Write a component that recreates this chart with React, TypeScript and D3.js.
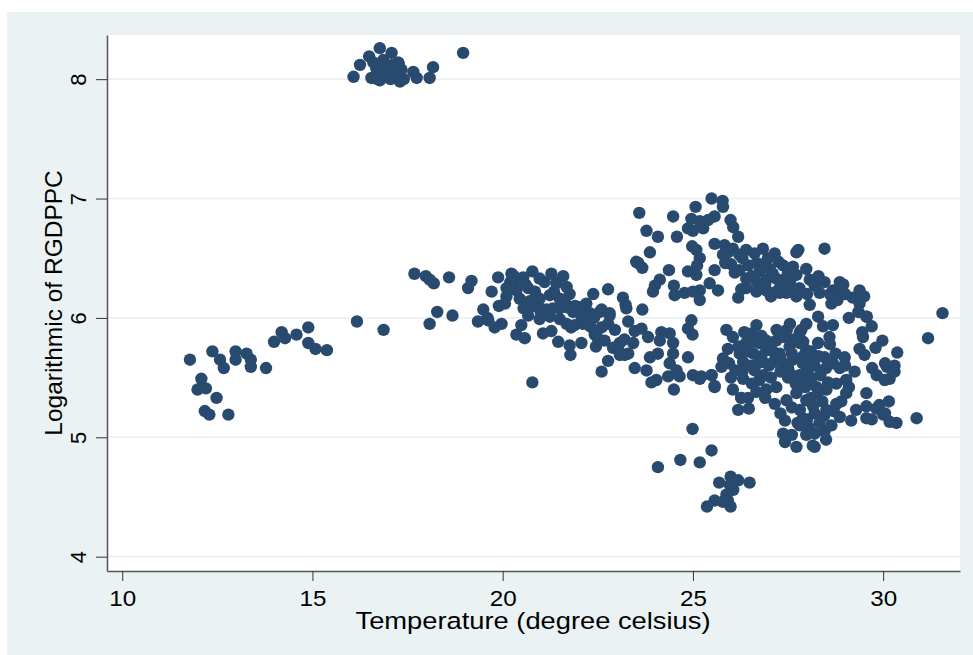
import * as d3 from "d3";
import { useEffect, useRef } from "react";

// [temperature, log RGDPPC], grouped by cluster
const coolGroup: [number, number][] = [
  [11.78, 5.65], [12.37, 5.72], [12.57, 5.65], [12.67, 5.58], [12.98, 5.72], [12.98, 5.65],
  [13.27, 5.70], [13.38, 5.65], [13.38, 5.59], [13.78, 5.58], [12.08, 5.49], [11.98, 5.40],
  [12.2, 5.41], [12.48, 5.33], [12.17, 5.22], [12.29, 5.19], [12.79, 5.19], [13.99, 5.80],
  [14.19, 5.88], [14.28, 5.83], [14.58, 5.86], [14.89, 5.92], [14.89, 5.79], [15.08, 5.74],
  [15.38, 5.73], [16.17, 5.97], [16.87, 5.90]
];

const richGroup: [number, number][] = [
  [16.08, 8.02], [16.25, 8.12], [16.49, 8.19], [16.77, 8.26], [17.08, 8.22], [17.25, 8.14],
  [16.55, 8.01], [16.77, 7.99], [16.99, 8.02], [17.30, 7.98], [16.68, 8.09], [16.9, 8.10],
  [17.12, 8.08], [17.34, 8.08], [16.6, 8.14], [16.86, 8.16], [17.65, 8.06], [17.74, 8.01],
  [18.08, 8.01], [18.17, 8.10], [18.96, 8.22], [17.27, 8.13], [16.95, 8.05], [17.05, 8.0],
  [17.2, 8.03], [16.8, 8.04], [17.4, 8.0], [17.1, 8.12], [16.7, 8.0]
];

const midGroup: [number, number][] = [
  [17.68, 6.37], [17.98, 6.35], [18.08, 6.32], [18.19, 6.29], [18.59, 6.34], [19.09, 6.25],
  [18.28, 6.05], [18.08, 5.95], [18.68, 6.02], [19.18, 6.31], [19.49, 6.07], [19.35, 5.97],
  [19.62, 5.98], [19.79, 5.92], [19.97, 5.95], [19.88, 6.34], [19.71, 6.22], [20.1, 6.18],
  [20.06, 6.12], [20.23, 6.37], [20.36, 6.32], [20.54, 6.34], [20.78, 6.39], [20.97, 6.33],
  [21.28, 6.37], [21.59, 6.35], [21.41, 6.29], [21.68, 6.26], [21.76, 6.20], [20.36, 6.23],
  [20.67, 6.25], [20.45, 6.16], [20.71, 6.14], [20.97, 6.16], [21.24, 6.19], [21.5, 6.16],
  [20.97, 6.08], [21.15, 6.07], [21.32, 6.08], [21.5, 6.08], [21.68, 6.09], [21.85, 6.05],
  [22.03, 6.09], [22.2, 6.02], [20.97, 5.99], [21.24, 6.01], [21.5, 5.99], [21.68, 5.95],
  [21.89, 5.94], [22.11, 5.95], [20.67, 6.02], [20.49, 5.94], [20.36, 5.86], [20.58, 5.83],
  [21.06, 5.87], [21.28, 5.89], [21.46, 5.80], [21.76, 5.77], [21.78, 5.69], [22.07, 5.79],
  [22.42, 5.86], [22.45, 5.76], [22.68, 5.81], [22.38, 6.20], [22.77, 6.24], [22.6, 6.07],
  [22.81, 6.02], [22.77, 5.95], [23.16, 6.17], [23.25, 6.08], [23.3, 5.97], [23.47, 5.89],
  [23.08, 5.79], [23.08, 5.69], [23.21, 5.69], [22.77, 5.64], [22.6, 5.55], [23.47, 5.58],
  [23.51, 6.47], [20.78, 5.46], [22.07, 5.98], [20.2, 6.3], [20.6, 6.28], [20.85, 6.22],
  [21.1, 6.3], [21.35, 6.22], [21.65, 6.12], [21.9, 6.1], [22.2, 6.12], [22.4, 6.0],
  [21.0, 6.05], [20.8, 6.1], [20.55, 6.08], [21.8, 5.92], [22.3, 5.93], [22.6, 5.92],
  [22.95, 5.9], [23.2, 5.82], [22.9, 5.75], [23.3, 5.7], [19.6, 6.0], [19.9, 6.1],
  [20.1, 6.25], [20.3, 6.35], [22.55, 6.05], [22.81, 6.04], [22.29, 6.04], [22.07, 6.02],
  [22.42, 5.88], [22.5, 5.83], [23.23, 6.11], [23.67, 6.07]
];

const warmHigh: [number, number][] = [
  [23.59, 6.88], [24.48, 6.85], [25.07, 6.93], [25.49, 7.00], [25.78, 6.98], [25.79, 6.93],
  [24.96, 6.83], [25.18, 6.81], [25.4, 6.82], [25.57, 6.85], [24.87, 6.75], [25.0, 6.73],
  [25.27, 6.75], [25.99, 6.82], [26.06, 6.76], [26.19, 6.68], [23.78, 6.73], [24.08, 6.68],
  [24.58, 6.68], [23.87, 6.55], [23.56, 6.46], [23.67, 6.42], [24.98, 6.60], [25.09, 6.57],
  [25.18, 6.50], [25.11, 6.44], [24.87, 6.39], [25.09, 6.36], [25.57, 6.62], [25.57, 6.40],
  [24.37, 6.40], [24.13, 6.32], [24.0, 6.27], [23.95, 6.22], [24.5, 6.27], [24.52, 6.19],
  [24.78, 6.21], [25.0, 6.22], [25.18, 6.23], [25.18, 6.15], [25.44, 6.29], [25.66, 6.23],
  [25.83, 6.61], [25.92, 6.55], [26.05, 6.58], [25.79, 6.53], [26.0, 6.45], [26.22, 6.53],
  [26.4, 6.57], [26.62, 6.54], [26.84, 6.58], [27.15, 6.54], [26.97, 6.50], [26.22, 6.40],
  [26.45, 6.44], [26.67, 6.46], [26.75, 6.39], [27.02, 6.41], [27.37, 6.44], [27.63, 6.43],
  [27.72, 6.55], [26.4, 6.33], [26.67, 6.30], [26.93, 6.32], [27.19, 6.33], [27.46, 6.34],
  [27.72, 6.36], [26.67, 6.22], [26.93, 6.23], [27.19, 6.22], [27.46, 6.21], [27.72, 6.18],
  [26.27, 6.24], [26.19, 6.17], [27.77, 6.57], [28.46, 6.58], [27.98, 6.41], [28.07, 6.32],
  [28.46, 6.30], [28.86, 6.30], [28.68, 6.23], [28.33, 6.21], [28.07, 6.11], [28.64, 6.12],
  [29.38, 6.23], [29.38, 6.12], [29.57, 6.01], [28.9, 6.22], [27.63, 6.23], [27.28, 6.21],
  [31.56, 6.04], [26.3, 6.5], [26.55, 6.35], [26.85, 6.45], [27.1, 6.37], [27.3, 6.27],
  [27.55, 6.3], [27.8, 6.25], [28.0, 6.2], [28.2, 6.27], [26.9, 6.28], [27.05, 6.18],
  [26.4, 6.25], [25.85, 6.46], [26.1, 6.38], [27.25, 6.47], [27.5, 6.38], [28.3, 6.35],
  [28.6, 6.2], [28.8, 6.15], [29.0, 6.2], [29.2, 6.17], [28.95, 6.28], [29.5, 6.18],
  [29.35, 6.05], [29.1, 6.0]
];

const warmLow: [number, number][] = [
  [25.88, 5.90], [26.05, 5.84], [25.92, 5.74], [25.79, 5.66], [25.75, 5.59], [25.49, 5.52],
  [25.22, 5.51], [25.57, 5.42], [26.05, 5.40], [26.27, 5.33], [26.45, 5.33], [26.19, 5.23],
  [26.47, 5.24], [26.12, 5.56], [26.32, 5.49], [26.67, 5.94], [26.54, 5.87], [26.4, 5.79],
  [26.23, 5.70], [26.32, 5.63], [26.59, 5.70], [26.75, 5.79], [26.93, 5.81], [26.93, 5.73],
  [26.84, 5.63], [26.62, 5.56], [26.75, 5.48], [26.93, 5.40], [26.67, 5.38], [27.19, 5.42],
  [27.47, 5.90], [27.81, 5.88], [27.98, 5.95], [28.29, 6.01], [28.42, 5.93], [28.68, 5.94],
  [28.59, 5.84], [28.29, 5.79], [27.19, 5.81], [27.28, 5.70], [27.54, 5.76], [27.81, 5.79],
  [27.98, 5.73], [27.11, 5.63], [27.37, 5.62], [27.63, 5.65], [27.89, 5.62], [28.16, 5.65],
  [28.46, 5.67], [28.68, 5.62], [28.86, 5.58], [28.99, 5.67], [29.38, 5.74], [29.51, 5.69],
  [29.47, 5.84], [29.56, 6.01], [29.98, 5.81], [30.37, 5.71], [31.18, 5.83], [29.71, 5.58],
  [29.83, 5.52], [30.1, 5.59], [30.3, 5.60], [30.17, 5.49], [30.04, 5.48], [29.25, 5.55],
  [29.03, 5.48], [28.77, 5.45], [28.51, 5.40], [27.81, 5.48], [28.07, 5.51], [28.25, 5.42],
  [27.54, 5.54], [27.46, 5.31], [27.72, 5.37], [27.98, 5.31], [28.16, 5.26], [27.81, 5.23],
  [27.89, 5.16], [27.81, 5.10], [27.98, 5.02], [28.2, 5.03], [28.46, 5.05], [28.33, 5.12],
  [28.64, 5.10], [28.86, 5.17], [29.16, 5.14], [29.29, 5.23], [29.56, 5.26], [29.82, 5.24],
  [30.0, 5.19], [30.17, 5.13], [29.56, 5.16], [29.56, 5.37], [29.03, 5.37], [28.77, 5.28],
  [28.51, 5.23], [30.88, 5.16], [27.42, 5.14], [27.37, 5.03], [27.42, 4.96], [27.72, 4.92],
  [28.2, 4.92], [26.8, 5.68], [27.0, 5.6], [27.1, 5.72], [27.3, 5.66], [27.5, 5.58],
  [27.6, 5.7], [27.8, 5.52], [27.9, 5.68], [28.0, 5.56], [28.1, 5.47], [28.2, 5.6],
  [28.35, 5.52], [28.3, 5.38], [28.1, 5.33], [27.95, 5.42], [27.7, 5.45], [27.5, 5.5],
  [27.3, 5.55], [27.05, 5.5], [26.85, 5.52], [26.7, 5.62], [26.5, 5.6], [26.45, 5.72],
  [26.6, 5.8], [26.8, 5.85], [27.0, 5.78], [27.4, 5.84], [27.65, 5.82], [27.9, 5.8],
  [28.1, 5.72], [28.3, 5.68], [28.5, 5.58], [28.55, 5.46], [28.4, 5.3], [28.2, 5.2],
  [28.0, 5.15], [28.45, 5.18], [28.7, 5.22], [28.9, 5.3], [29.1, 5.42], [29.0, 5.6],
  [28.75, 5.7], [28.6, 5.78], [27.2, 5.9], [27.55, 5.95], [27.85, 5.9], [26.35, 5.88],
  [26.2, 5.76], [25.95, 5.62], [26.0, 5.5], [26.3, 5.55], [26.55, 5.45], [26.9, 5.33],
  [27.15, 5.28], [27.6, 5.25], [27.75, 5.12], [28.05, 5.08], [28.5, 4.98], [28.15, 4.93],
  [27.6, 5.02], [27.3, 5.2], [29.7, 5.93], [29.45, 5.88], [29.8, 5.75], [30.05, 5.62],
  [30.3, 5.55], [30.15, 5.3], [29.9, 5.27], [30.05, 5.2], [29.7, 5.15], [30.35, 5.12]
];

const transitionGroup: [number, number][] = [
  [24.96, 5.98], [24.87, 5.91], [24.99, 5.86], [24.5, 5.40], [24.87, 5.67], [24.48, 5.70],
  [24.39, 5.62], [24.57, 5.56], [24.65, 5.51], [24.35, 5.51], [24.04, 5.48], [23.91, 5.46],
  [23.78, 5.56], [23.12, 5.70], [23.87, 5.67], [24.08, 5.70], [24.17, 5.88], [24.39, 5.87],
  [24.13, 5.81], [24.48, 5.79], [23.82, 5.84], [23.65, 5.91], [23.43, 5.79], [25.0, 5.52],
  [25.18, 5.49], [25.49, 5.52], [25.57, 5.43], [26.27, 5.33]
];

const poorGroup: [number, number][] = [
  [24.99, 5.07], [25.49, 4.89], [25.18, 4.79], [24.67, 4.81], [24.08, 4.75], [25.69, 4.62],
  [25.99, 4.67], [26.19, 4.64], [26.49, 4.62], [26.06, 4.56], [25.88, 4.52], [25.57, 4.47],
  [25.37, 4.42], [25.79, 4.46], [25.99, 4.42], [25.92, 4.47], [25.97, 4.60]
];

const xTicks = [10, 15, 20, 25, 30];
const yTicks = [4, 5, 6, 7, 8];

const allPoints = [
  ...coolGroup, ...richGroup, ...midGroup, ...warmHigh, ...warmLow, ...transitionGroup, ...poorGroup
];

export default function App() {
  const width = 973;
  const height = 655;
  const plotLeft = 107;
  const plotRight = 960;
  const plotTop = 35;
  const plotBottom = 571;

  const x = d3.scaleLinear([9.6, 32.02], [plotLeft, plotRight]);
  const y = d3.scaleLinear([3.88, 8.37], [plotBottom, plotTop]);

  const axisx: any = useRef();
  const axisy: any = useRef();

  useEffect(() => {
    d3.select(axisx.current)
      .call(d3.axisBottom(x).tickValues(xTicks).tickFormat(d3.format("d")).tickSize(10).tickPadding(9).tickSizeOuter(0))
      .call(g => g.select(".domain").attr("stroke", "#555").attr("stroke-width", 1.5))
      .call(g => g.selectAll(".tick line").attr("stroke", "#333"))
      .call(g => g.selectAll(".tick text")
        .attr("font-size", 22)
        .attr("font-family", "Liberation Sans, Arial, sans-serif")
        .attr("fill", "#000")
        .attr("transform", "scale(1.1,1)"));
    d3.select(axisy.current)
      .call(d3.axisLeft(y).tickValues(yTicks).tickFormat(d3.format("d")).tickSize(11).tickPadding(8).tickSizeOuter(0))
      .call(g => g.select(".domain").attr("stroke", "#555").attr("stroke-width", 1.5))
      .call(g => g.selectAll(".tick line").attr("stroke", "#333"))
      .call(g => g.selectAll(".tick text")
        .attr("font-size", 22)
        .attr("font-family", "Liberation Sans, Arial, sans-serif")
        .attr("fill", "#000")
        .attr("text-anchor", "middle")
        .attr("dy", null)
        .attr("x", null)
        .attr("transform", "translate(-21,0) rotate(-90)"));
  }, []);

  return (
    <svg width={width} height={height} style={{ position: "absolute", left: 0, top: 0 }}>
      <rect x={0} y={0} width={width} height={height} fill="#fff" />
      <rect x={7} y={12} width={width - 7} height={height - 12} fill="#eaf2f3" />
      <rect x={plotLeft} y={plotTop} width={plotRight - plotLeft} height={plotBottom - plotTop} fill="#fff" />
      <g>
        {yTicks.map(t => (
          <line key={t} x1={plotLeft} x2={plotRight} y1={y(t)} y2={y(t)} stroke="#e9f0f3" strokeWidth={1.6} />
        ))}
      </g>
      <g fill="#294a6f">
        {allPoints.map((d, i) => (
          <circle key={i} cx={x(d[0])} cy={y(d[1])} r={6.2} />
        ))}
      </g>
      <g ref={axisx} transform={`translate(0, ${plotBottom})`} />
      <g ref={axisy} transform={`translate(${plotLeft}, 0)`} />
      <text
        x={533}
        y={629}
        textAnchor="middle"
        fontSize={24.5}
        fontFamily="Liberation Sans, Arial, sans-serif"
        textLength={355}
        lengthAdjust="spacingAndGlyphs"
      >
        Temperature (degree celsius)
      </text>
      <text
        transform={`translate(62, ${303}) rotate(-90)`}
        textAnchor="middle"
        fontSize={24.5}
        fontFamily="Liberation Sans, Arial, sans-serif"
      >
        Logarithmic of RGDPPC
      </text>
    </svg>
  );
}
